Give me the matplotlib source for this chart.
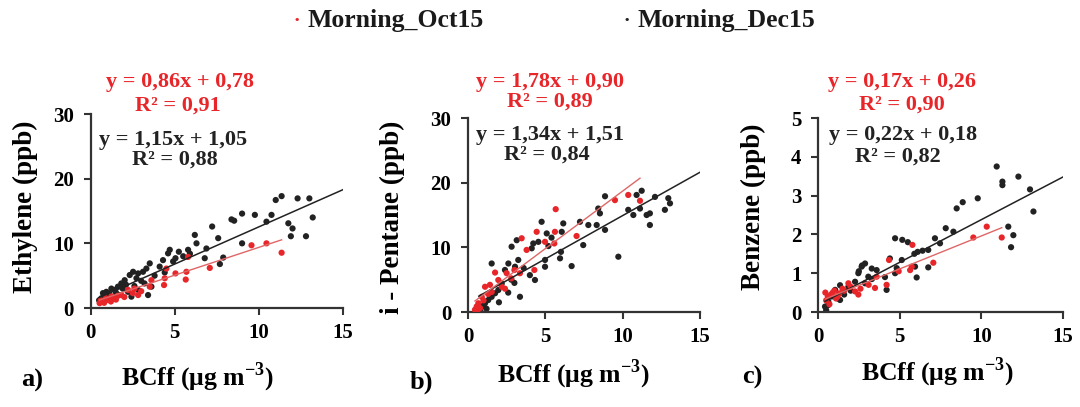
import numpy as np
import matplotlib
matplotlib.use("Agg")
import matplotlib.pyplot as plt

plt.rcParams["font.family"] = ["Liberation Serif", "DejaVu Serif"]
plt.rcParams["font.weight"] = "bold"
plt.rcParams["mathtext.fontset"] = "custom"
plt.rcParams["mathtext.rm"] = "Liberation Serif:bold"
plt.rcParams["mathtext.bf"] = "Liberation Serif:bold"

RED = "#e8262a"
DARK = "#222222"

# --- data (BCff in ug m-3, species in ppb) ---
ethy_dec_x = [11.35, 11.0, 12.3, 13.0, 13.2, 12.8, 11.9, 12.0, 11.75, 10.75, 10.45, 9.76, 9.0, 8.53, 8.37,
              9.0, 7.22, 7.58, 7.88, 7.68, 6.88, 6.78, 6.19, 6.29, 5.79, 5.24, 4.70, 4.60, 5.04, 4.9, 4.3,
              4.1, 3.51, 3.31, 3.11, 2.82, 2.52, 2.32, 2.72, 2.02, 1.82, 1.62, 1.43, 1.23, 0.93, 0.73, 1.03,
              0.63, 3.41, 3.61, 2.42, 2.22, 2.82, 0.5, 0.8, 1.1, 1.3, 1.5, 1.9, 2.1, 3.0, 3.8, 5.5, 5.9,
              4.4, 3.2, 2.6, 1.7]
ethy_dec_y = [17.3, 16.7, 16.95, 16.95, 14.0, 11.1, 11.1, 12.3, 13.1, 14.4, 13.35, 14.4, 14.6, 13.5, 13.7,
              10.0, 12.6, 10.8, 7.8, 6.8, 9.2, 7.7, 11.3, 10.0, 9.0, 8.7, 9.0, 8.45, 7.7, 7.2, 7.4,
              6.4, 6.9, 6.1, 5.6, 5.35, 5.6, 5.1, 4.6, 4.3, 3.8, 3.3, 2.8, 3.0, 2.5, 2.3, 1.75,
              1.5, 2.0, 3.3, 1.75, 2.5, 2.8, 1.2, 1.9, 2.2, 1.6, 2.4, 3.0, 3.6, 4.2, 5.0, 8.0, 8.4,
              5.5, 3.8, 3.4, 2.0]
ethy_oct_x = [11.35, 10.45, 9.56, 7.08, 5.69, 5.65, 5.79, 5.04, 4.4, 4.36, 4.5, 3.51, 3.61, 2.82, 2.22,
              1.82, 1.43, 1.03, 0.73, 0.53, 0.8, 1.23, 1.62, 2.0, 2.5, 3.0, 1.2, 0.6, 0.9, 1.5, 2.6]
ethy_oct_y = [8.55, 10.0, 9.7, 6.2, 5.6, 4.4, 7.9, 5.35, 4.6, 3.55, 6.1, 3.3, 4.3, 2.0, 2.8,
              2.0, 1.5, 1.25, 1.0, 0.75, 0.8, 1.8, 1.9, 1.7, 2.3, 2.6, 1.0, 1.2, 1.5, 1.3, 3.0]

pent_dec_x = [11.23, 10.9, 12.09, 12.95, 13.06, 12.73, 11.76, 11.55, 11.76, 11.12, 10.69, 10.36, 9.72, 8.86,
              8.86, 8.53, 8.32, 8.42, 7.78, 7.24, 7.45, 6.7, 6.16, 6.06, 6.01, 5.95, 4.76, 5.09, 4.98, 4.98,
              4.55, 4.22, 4.12, 4.33, 4.0, 3.15, 2.82, 3.25, 3.04, 2.61, 2.39, 3.36, 1.53, 2.18, 1.96, 1.75,
              1.53, 1.31, 1.1, 0.89, 0.7, 2.8, 3.0, 2.6, 1.2, 0.8, 1.0, 1.4, 2.0, 3.6, 5.4, 5.2]
pent_dec_y = [18.75, 18.1, 17.8, 17.6, 16.8, 15.8, 15.25, 15.0, 13.45, 16.0, 15.0, 15.8, 8.55, 17.9,
              12.7, 15.25, 13.45, 16.0, 13.45, 13.95, 10.35, 7.1, 13.7, 12.4, 9.3, 8.3, 13.95, 12.15, 8.05, 7.0,
              10.85, 10.6, 9.85, 4.95, 5.7, 11.1, 10.1, 8.05, 7.0, 7.5, 6.5, 2.35, 7.5, 4.4, 3.4, 2.9,
              2.35, 1.85, 1.35, 0.8, 0.6, 5.0, 4.5, 3.0, 0.5, 0.2, 1.0, 2.6, 1.5, 6.8, 11.5, 10.2]
pent_oct_x = [11.12, 10.36, 9.5, 5.67, 7.02, 5.62, 4.98, 5.58, 4.44, 3.79, 3.47, 4.29, 3.36, 2.5, 1.75,
              1.96, 2.18, 1.42, 1.1, 2.39, 1.53, 0.89, 0.67, 0.56, 0.78, 0.45, 1.3, 2.8, 3.0, 1.0, 0.6]
pent_oct_y = [17.2, 18.1, 17.3, 15.9, 11.75, 12.4, 10.85, 10.6, 12.4, 9.6, 11.4, 6.5, 6.0, 6.0, 6.1,
              4.95, 3.9, 4.2, 3.9, 3.6, 3.1, 2.35, 1.35, 0.85, 0.6, 0.35, 2.8, 5.2, 6.5, 1.8, 0.2]

benz_dec_x = [10.94, 11.29, 11.29, 12.27, 12.98, 13.19, 11.65, 11.96, 11.82, 9.78, 8.86, 8.49, 8.29, 7.82,
              7.16, 7.47, 6.75, 6.4, 6.1, 5.9, 4.72, 5.16, 5.5, 5.94, 6.04, 6.75, 4.82, 4.72, 5.13, 4.4,
              4.2, 3.59, 3.29, 2.88, 2.67, 2.47, 3.08, 2.88, 2.27, 1.86, 1.35, 1.05, 0.84, 0.63, 0.43,
              0.63, 1.35, 1.6, 2.0, 3.3, 4.1, 2.7, 2.5, 1.2, 0.5]
benz_dec_y = [3.75, 3.36, 3.27, 3.49, 3.16, 2.59, 2.2, 1.98, 1.67, 2.93, 2.83, 2.67, 2.07, 2.16,
              1.9, 1.77, 1.6, 1.58, 1.55, 1.5, 1.9, 1.86, 1.8, 1.17, 0.89, 1.15, 1.13, 1.0, 1.34, 1.38,
              0.57, 1.08, 1.12, 1.25, 1.17, 1.0, 0.91, 0.74, 0.78, 0.65, 0.69, 0.57, 0.4, 0.27, 0.14,
              0.18, 0.31, 0.45, 0.55, 0.85, 0.9, 1.2, 1.05, 0.35, 0.05]
benz_oct_x = [10.33, 9.51, 11.25, 5.78, 7.06, 5.74, 5.64, 4.94, 4.35, 4.2, 3.49, 3.59, 2.47, 2.27, 1.86,
              1.6, 1.3, 1.0, 0.8, 0.6, 0.5, 0.7, 1.1, 1.5, 2.0, 2.6, 3.1, 0.45, 0.9, 1.2]
benz_oct_y = [2.2, 1.92, 1.92, 1.73, 1.27, 1.17, 1.08, 1.05, 1.34, 0.7, 0.62, 0.91, 0.45, 0.53, 0.74,
              0.55, 0.48, 0.55, 0.45, 0.4, 0.3, 0.2, 0.35, 0.6, 0.65, 0.6, 0.7, 0.5, 0.5, 0.4]

# fitted lines as printed on the chart (slope, intercept, R2)
fit_oct = [(0.86, 0.78, 0.91), (1.78, 0.90, 0.89), (0.17, 0.26, 0.90)]
fit_dec = [(1.15, 1.05, 0.88), (1.34, 1.51, 0.84), (0.22, 0.18, 0.82)]

ylabels = ["Ethylene (ppb)", "i - Pentane (ppb)", "Benzene (ppb)"]
ymax = [30, 30, 5]
yticks = [[0, 10, 20, 30], [0, 10, 20, 30], [0, 1, 2, 3, 4, 5]]
letters = ["a)", "b)", "c)"]

W, H = 1080, 407
fig = plt.figure(figsize=(W / 100, H / 100), dpi=100)

def px(x, y):
    return x / W, 1 - y / H

# axes boxes in pixels: left, right, top(y at max), bottom(y at 0)
boxes = [(90.7, 343, 114, 308), (468, 700, 118, 312), (818, 1063, 118, 312)]
eq_pos = [((180, 82), (178, 106), (173, 140), (175, 160)),
          ((550, 82), (550, 102), (550, 135), (547, 155)),
          ((902, 82), (902, 105), (903, 135), (898, 157))]
ylab_pos = [(25, 207), (392, 217), (753, 207)]
xlab_pos = [(197, 377), (573, 374), (937, 372)]
let_pos = [(32, 380), (421, 382), (752, 377)]

data = [(ethy_dec_x, ethy_dec_y, ethy_oct_x, ethy_oct_y),
        (pent_dec_x, pent_dec_y, pent_oct_x, pent_oct_y),
        (benz_dec_x, benz_dec_y, benz_oct_x, benz_oct_y)]

EQ_FS = 16

for i in range(3):
    l, r, t, b = boxes[i]
    ax = fig.add_axes([l / W, 1 - b / H, (r - l) / W, (b - t) / H])
    dx, dy, ox, oy = data[i]
    ax.scatter(dx, dy, s=20, color=DARK, edgecolors="none", zorder=2)
    ax.scatter(ox, oy, s=20, color=RED, edgecolors="none", zorder=3)

    m, c, _ = fit_dec[i]
    xs = np.array([min(dx), 15])
    ax.plot(xs, m * xs + c, color=DARK, lw=1.1, zorder=4)
    m, c, _ = fit_oct[i]
    xs = np.array([min(ox), max(ox)])
    ax.plot(xs, m * xs + c, color="#e06666", lw=1.0, zorder=4)

    ax.set_xlim(0, 15)
    ax.set_ylim(0, ymax[i])
    ax.set_xticks([0, 5, 10, 15])
    ax.set_yticks(yticks[i])
    for s in ["top", "right"]:
        ax.spines[s].set_visible(False)
    for s in ["left", "bottom"]:
        ax.spines[s].set_linewidth(1.6)
        ax.spines[s].set_color("#333333")
    ax.tick_params(direction="out", length=5, width=1.5, color="#333333", labelsize=15)
    ax.tick_params(axis="y", pad=7)
    ax.tick_params(axis="x", pad=6)
    ax.set_facecolor("none")

    (rx1, ry1), (rx2, ry2), (bx1, by1), (bx2, by2) = eq_pos[i]
    mo, co, ro = fit_oct[i]
    md, cd, rd = fit_dec[i]
    fig.text(*px(rx1, ry1), f"y = {mo:.2f}x + {co:.2f}".replace(".", ","), color=RED,
             ha="center", va="center", fontsize=EQ_FS, fontweight="bold")
    fig.text(*px(rx2, ry2), f"R² = {ro:.2f}".replace(".", ","), color=RED,
             ha="center", va="center", fontsize=EQ_FS, fontweight="bold")
    fig.text(*px(bx1, by1), f"y = {md:.2f}x + {cd:.2f}".replace(".", ","), color=DARK,
             ha="center", va="center", fontsize=EQ_FS, fontweight="bold")
    fig.text(*px(bx2, by2), f"R² = {rd:.2f}".replace(".", ","), color=DARK,
             ha="center", va="center", fontsize=EQ_FS, fontweight="bold")

    fig.text(*px(*ylab_pos[i]), ylabels[i], rotation=90, ha="center", va="center",
             fontsize=19.5, fontweight="bold")
    fig.text(*px(*xlab_pos[i]), r"BCff (μg m$^{-3}$)", ha="center", va="center",
             fontsize=18.5, fontweight="bold")
    fig.text(*px(*let_pos[i]), letters[i], ha="center", va="center",
             fontsize=19, fontweight="bold")

# legend row
fig.text(*px(297, 21), "•", color=RED, ha="center", va="center", fontsize=9)
fig.text(*px(308, 21), "Morning_Oct15", ha="left", va="center", fontsize=18.5, fontweight="bold",
         color="#1a1a1a")
fig.text(*px(627, 21), "•", color=DARK, ha="center", va="center", fontsize=9)
fig.text(*px(637, 21), "Morning_Dec15", ha="left", va="center", fontsize=18.5, fontweight="bold",
         color="#1a1a1a")

fig.savefig("out.png", dpi=100)
